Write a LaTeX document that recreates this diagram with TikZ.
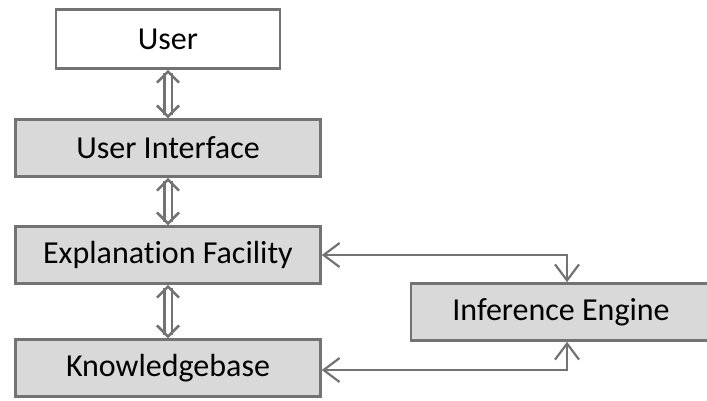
\documentclass[tikz,border=0pt]{standalone}
\usepackage{fontspec}
\setmainfont[Ligatures=NoCommon]{Carlito}
\usetikzlibrary{arrows.meta}
\definecolor{edgegray}{gray}{0.45}
\definecolor{boxgray}{gray}{0.85}
\begin{document}
\begin{tikzpicture}[node distance=108pt, x=1pt, y=1pt]
    \tikzstyle{block} = [rectangle, minimum width=305pt, minimum height=57pt, draw=edgegray, line width=2.5pt, fill=boxgray, font=\fontsize{32}{38}\selectfont]
    \tikzstyle{dbl} = [draw=edgegray, line width=2.5pt, double=white, double distance=5pt, {Straight Barb[length=11pt,width=22pt]}-{Straight Barb[length=11pt,width=22pt]}]
    \tikzstyle{link} = [draw=edgegray, line width=2.2pt, {Straight Barb[length=16pt,width=24pt]}-{Straight Barb[length=16pt,width=24pt]}]
    \useasboundingbox (0,0) rectangle (707,-400);
    \node (user) [block, fill=white, minimum width=224pt, minimum height=59pt] at (168,-39) {User};
    \node (ui) [block, below of=user, yshift=-1pt] {User Interface};
    \node (expl) [block, below of=ui, yshift=1pt] {Explanation Facility};
    \node (kb) [block, below of=expl, yshift=-5pt] {Knowledgebase};
    \node (ie) [block, minimum width=300pt, right of=expl, xshift=285pt, yshift=-57pt] {Inference Engine};
    \coordinate (ietop) at ([xshift=6pt]ie.north);
    \coordinate (iebot) at ([xshift=6pt]ie.south);

    \draw[dbl]  (user) -- (ui);
    \draw[dbl]  (ui) -- (expl);
    \draw[dbl]  (expl) -- (kb);
    \draw[link] (expl.east) -| (ietop);
    \draw[link] ([yshift=-2pt]kb.east) -| (iebot);
\end{tikzpicture}
\end{document}
